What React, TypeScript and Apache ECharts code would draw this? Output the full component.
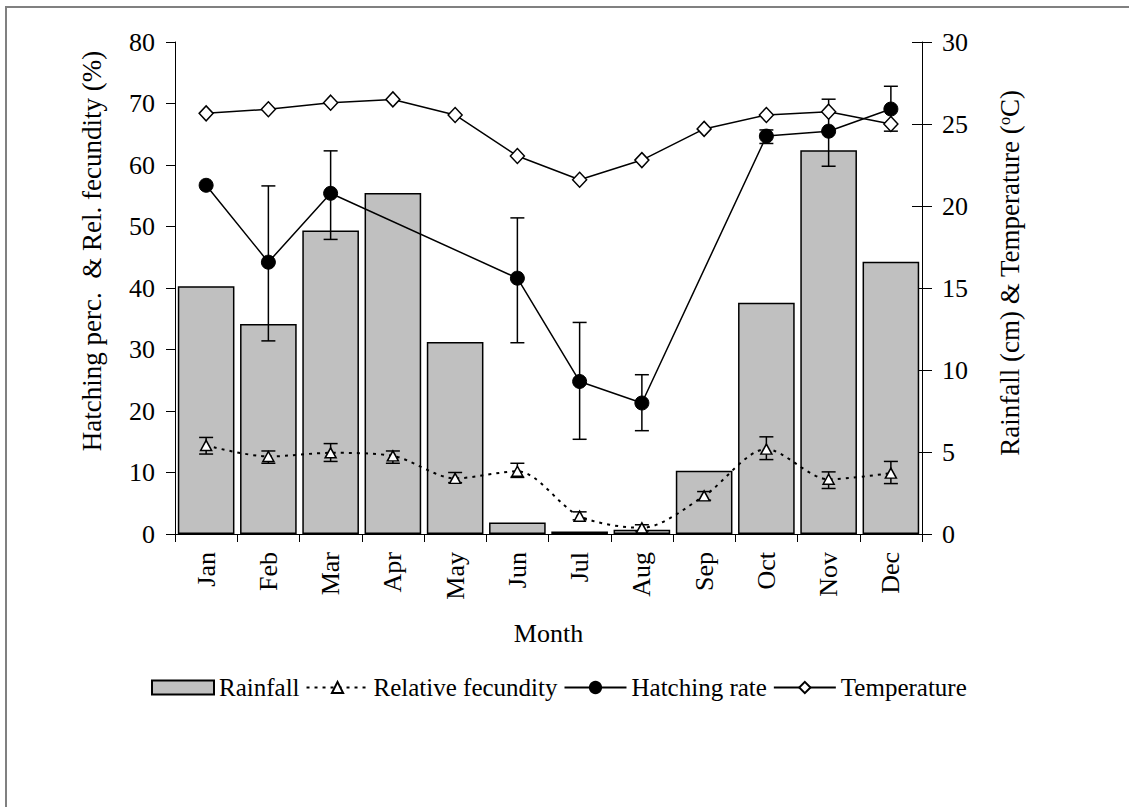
import React, { useEffect, useRef } from 'react';
import * as echarts from 'echarts';

const months = ['Jan', 'Feb', 'Mar', 'Apr', 'May', 'Jun', 'Jul', 'Aug', 'Sep', 'Oct', 'Nov', 'Dec'];
// Rainfall (cm), right axis
const rainfall = [15.1, 12.8, 18.5, 20.8, 11.7, 0.7, 0.15, 0.26, 3.86, 14.1, 23.4, 16.6];
// Relative fecundity (%), left axis
const relFecundity = [14.4, 12.6, 13.2, 12.7, 9.05, 10.2, 2.9, 1.0, 6.2, 13.8, 8.9, 9.9];
const relFecLow = [13.0, 11.5, 11.8, 11.5, 8.35, 9.2, 2.3, 0.5, 5.5, 12.1, 7.4, 8.2];
const relFecHigh = [15.7, 13.5, 14.7, 13.5, 10.0, 11.5, 3.6, 1.5, 6.9, 15.8, 10.1, 11.8];
// Hatching rate (%), left axis
const hatching = [56.7, 44.2, 55.4, null, null, 41.6, 24.8, 21.3, null, 64.7, 65.5, 69.1];
const hatchLow = [null, 31.4, 47.9, null, null, 31.1, 15.4, 16.8, null, 63.5, 59.8, 65.5];
const hatchHigh = [null, 56.6, 62.3, null, null, 51.4, 34.4, 25.9, null, 65.7, 70.7, 72.8];
// Temperature (°C), right axis
const temperature = [25.65, 25.9, 26.3, 26.5, 25.55, 23.05, 21.6, 22.8, 24.7, 25.55, 25.75, 25.0];

const leftAxis = { min: 0, max: 80, interval: 10 };
const rightAxis = { min: 0, max: 30, interval: 5 };

const FONT = 'Liberation Serif';

function errorData(low: (number | null)[], high: (number | null)[]) {
  const out: number[][] = [];
  months.forEach((_, i) => {
    const lo = low[i];
    const hi = high[i];
    if (lo != null && hi != null) out.push([i, lo, hi]);
  });
  return out;
}

function makeErrorRender(cap: number) {
  return (params: any, api: any) => {
    const x = api.value(0);
    const pLo = api.coord([x, api.value(1)]);
    const pHi = api.coord([x, api.value(2)]);
    const style = { stroke: '#000', lineWidth: 1.5 };
    return {
      type: 'group',
      children: [
        { type: 'line', shape: { x1: pLo[0], y1: pLo[1], x2: pHi[0], y2: pHi[1] }, style },
        { type: 'line', shape: { x1: pLo[0] - cap, y1: pLo[1], x2: pLo[0] + cap, y2: pLo[1] }, style },
        { type: 'line', shape: { x1: pHi[0] - cap, y1: pHi[1], x2: pHi[0] + cap, y2: pHi[1] }, style },
      ],
    };
  };
}

export default function App() {
  const ref = useRef<HTMLDivElement>(null);

  useEffect(() => {
    if (!ref.current) return;
    const chart = echarts.init(ref.current, null, { renderer: 'svg' });
    const axisText = { color: '#000', fontFamily: FONT, fontSize: 26 };
    chart.setOption({
      animation: false,
      backgroundColor: '#fff',
      textStyle: { fontFamily: FONT, color: '#000' },
      grid: { left: 175, right: 207, top: 42, bottom: 273 },
      graphic: [
        {
          type: 'rect',
          shape: { x: 6, y: 7, width: 1300, height: 900 },
          style: { fill: 'none', stroke: '#808080', lineWidth: 2 },
          silent: true,
        },
      ],
      legend: {
        left: 146,
        top: 670,
        itemWidth: 62,
        itemHeight: 14,
        itemGap: 6,
        textStyle: { fontFamily: FONT, fontSize: 25, color: '#000' },
        data: [
          { name: 'Rainfall', icon: 'rect' },
          { name: 'Relative fecundity' },
          { name: 'Hatching rate' },
          { name: 'Temperature' },
        ],
      },
      xAxis: {
        type: 'category',
        data: months,
        boundaryGap: true,
        name: 'Month',
        nameLocation: 'middle',
        nameGap: 86,
        nameTextStyle: axisText,
        axisLine: { lineStyle: { color: '#000', width: 1 } },
        axisTick: { show: true, length: 8, lineStyle: { color: '#000' } },
        axisLabel: { ...axisText, rotate: 90, margin: 18, interval: 0 },
      },
      yAxis: [
        {
          type: 'value',
          position: 'left',
          ...leftAxis,
          name: 'Hatching perc.  & Rel. fecundity (%)',
          nameLocation: 'middle',
          nameRotate: 90,
          nameGap: 70,
          nameTextStyle: { ...axisText, fontSize: 27, padding: [0, 0, 0, 74] },
          splitLine: { show: false },
          axisLine: { show: true, lineStyle: { color: '#000', width: 1 } },
          axisTick: { show: true, length: 9, lineStyle: { color: '#000' } },
          axisLabel: { ...axisText, margin: 20 },
        },
        {
          type: 'value',
          position: 'right',
          ...rightAxis,
          name: 'Rainfall (cm) & Temperature ({sup|o}C)',
          nameLocation: 'middle',
          nameRotate: 90,
          nameGap: 74,
          nameTextStyle: {
            ...axisText,
            fontSize: 27,
            padding: [0, 0, 0, 30],
            rich: {
              sup: { fontFamily: FONT, fontSize: 16, color: '#000', verticalAlign: 'top', padding: [0, 0, 12, 0] },
            },
          },
          splitLine: { show: false },
          axisLine: { show: true, lineStyle: { color: '#000', width: 1 } },
          axisTick: { show: true, length: 10, lineStyle: { color: '#000' } },
          axisLabel: { ...axisText, margin: 20 },
        },
        {
          type: 'value',
          position: 'right',
          ...rightAxis,
          splitLine: { show: false },
          axisLine: { show: false },
          axisTick: { show: true, inside: true, length: 10, lineStyle: { color: '#000' } },
          axisLabel: { show: false },
        },
      ],
      series: [
        {
          name: 'Rainfall',
          type: 'bar',
          yAxisIndex: 1,
          data: rainfall,
          barCategoryGap: '9%',
          itemStyle: { color: '#c0c0c0', borderColor: '#000', borderWidth: 1.5 },
          z: 1,
        },
        {
          name: 'fecErr',
          type: 'custom',
          yAxisIndex: 0,
          renderItem: makeErrorRender(7),
          encode: { x: 0, y: [1, 2] },
          data: errorData(relFecLow, relFecHigh),
          z: 2,
        },
        {
          name: 'hatchErr',
          type: 'custom',
          yAxisIndex: 0,
          renderItem: makeErrorRender(7),
          encode: { x: 0, y: [1, 2] },
          data: errorData(hatchLow, hatchHigh),
          z: 2,
        },
        {
          name: 'Relative fecundity',
          type: 'line',
          yAxisIndex: 0,
          data: relFecundity,
          smooth: 0.3,
          symbol: 'triangle',
          symbolSize: [11, 10],
          itemStyle: { color: '#fff', borderColor: '#000', borderWidth: 1.5 },
          lineStyle: { color: '#000', width: 2, type: [3, 5] },
          z: 3,
        },
        {
          name: 'Hatching rate',
          type: 'line',
          yAxisIndex: 0,
          data: hatching,
          connectNulls: true,
          symbol: 'circle',
          symbolSize: 14,
          itemStyle: { color: '#000', borderColor: '#000', borderWidth: 1 },
          lineStyle: { color: '#000', width: 1.5 },
          z: 4,
        },
        {
          name: 'Temperature',
          type: 'line',
          yAxisIndex: 1,
          data: temperature,
          symbol: 'diamond',
          symbolSize: [14, 15],
          itemStyle: { color: '#fff', borderColor: '#000', borderWidth: 1.5 },
          lineStyle: { color: '#000', width: 1.5 },
          z: 4,
        },
      ],
    });
    return () => chart.dispose();
  }, []);

  return (
    <div
      ref={ref}
      style={{ position: 'fixed', left: 0, top: 0, width: 1129, height: 807, background: '#fff' }}
    />
  );
}
